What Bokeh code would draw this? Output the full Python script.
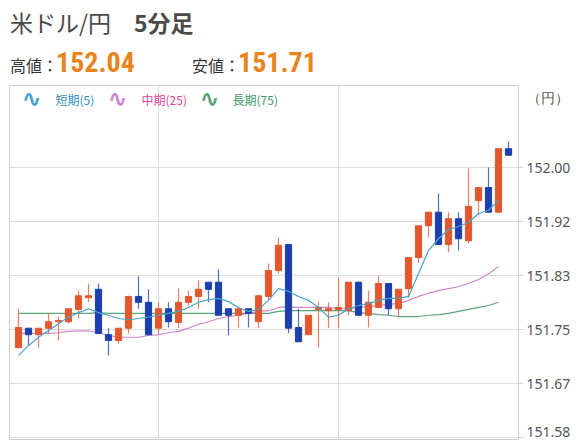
from bokeh.plotting import figure
from bokeh.models import Range1d, FixedTicker, Label, ColumnDataSource, Grid, Div
from bokeh.layouts import column
from bokeh.embed import file_html
from bokeh.resources import INLINE

# ---- data ----
idx = list(range(1, 51))
opens = [151.722, 151.752, 151.742, 151.752, 151.762, 151.762, 151.781, 151.799, 151.812, 151.742,
         151.733, 151.752, 151.801, 151.792, 151.752, 151.782, 151.761, 151.792, 151.801, 151.823,
         151.823, 151.782, 151.772, 151.782, 151.762, 151.801, 151.841, 151.881, 151.753, 151.742,
         151.781, 151.779, 151.781, 151.779, 151.823, 151.772, 151.784, 151.821, 151.782, 151.813,
         151.861, 151.910, 151.931, 151.881, 151.921, 151.887, 151.949, 151.969, 151.931, 152.029]
highs = [151.782, 151.752, 151.752, 151.775, 151.770, 151.782, 151.810, 151.821, 151.821, 151.752,
         151.752, 151.802, 151.832, 151.812, 151.792, 151.792, 151.813, 151.810, 151.826, 151.823,
         151.843, 151.782, 151.782, 151.782, 151.802, 151.852, 151.892, 151.881, 151.782, 151.772,
         151.792, 151.792, 151.830, 151.823, 151.823, 151.810, 151.833, 151.821, 151.812, 151.861,
         151.910, 151.931, 151.960, 151.931, 151.931, 151.998, 151.969, 152.000, 152.029, 152.040]
lows = [151.721, 151.725, 151.722, 151.744, 151.733, 151.759, 151.767, 151.792, 151.744, 151.710,
        151.728, 151.744, 151.782, 151.741, 151.744, 151.753, 151.752, 151.787, 151.782, 151.792,
        151.772, 151.741, 151.753, 151.753, 151.752, 151.795, 151.836, 151.744, 151.731, 151.742,
        151.722, 151.752, 151.752, 151.772, 151.772, 151.753, 151.784, 151.772, 151.769, 151.799,
        151.853, 151.892, 151.881, 151.869, 151.872, 151.883, 151.926, 151.931, 151.931, 152.019]
closes = [151.753, 151.742, 151.752, 151.762, 151.764, 151.782, 151.802, 151.802, 151.744, 151.733,
          151.752, 151.801, 151.792, 151.742, 151.782, 151.762, 151.792, 151.801, 151.812, 151.812,
          151.772, 151.772, 151.782, 151.775, 151.802, 151.841, 151.880, 151.752, 151.731, 151.772,
          151.784, 151.782, 151.784, 151.823, 151.772, 151.792, 151.821, 151.782, 151.812, 151.861,
          151.910, 151.931, 151.881, 151.921, 151.890, 151.940, 151.969, 151.931, 152.029, 152.019]

ma_short = [151.710, 151.725, 151.738, 151.748, 151.759, 151.769, 151.776, 151.782, 151.776, 151.772,
            151.767, 151.765, 151.767, 151.769, 151.772, 151.775, 151.778, 151.784, 151.792, 151.796,
            151.798, 151.793, 151.784, 151.778, 151.781, 151.795, 151.813, 151.809, 151.801, 151.795,
            151.784, 151.769, 151.772, 151.782, 151.787, 151.790, 151.795, 151.798, 151.798, 151.801,
            151.836, 151.872, 151.890, 151.904, 151.909, 151.915, 151.929, 151.934, 151.949]
ma_mid = [151.744, 151.744, 151.744, 151.744, 151.745, 151.747, 151.748, 151.748, 151.745, 151.741,
          151.738, 151.738, 151.738, 151.741, 151.742, 151.745, 151.747, 151.752, 151.758, 151.762,
          151.767, 151.770, 151.772, 151.775, 151.778, 151.779, 151.784, 151.785, 151.784, 151.784,
          151.784, 151.784, 151.782, 151.782, 151.784, 151.785, 151.787, 151.789, 151.790, 151.795,
          151.801, 151.806, 151.810, 151.813, 151.816, 151.821, 151.827, 151.836, 151.847]
ma_long = [151.775, 151.775, 151.775, 151.775, 151.775, 151.775, 151.775, 151.775, 151.776, 151.775,
           151.775, 151.775, 151.775, 151.775, 151.775, 151.775, 151.775, 151.775, 151.775, 151.775,
           151.775, 151.775, 151.775, 151.775, 151.775, 151.775, 151.778, 151.779, 151.779, 151.779,
           151.779, 151.779, 151.779, 151.779, 151.776, 151.775, 151.773, 151.772, 151.770, 151.770,
           151.770, 151.772, 151.773, 151.775, 151.778, 151.781, 151.784, 151.787, 151.792]

y_ticks = [151.58333, 151.66667, 151.75, 151.83333, 151.91667, 152.0]
y_labels = ["151.58", "151.67", "151.75", "151.83", "151.92", "152.00"]
unit_pos = 152.108
unit_label = "（円）"
x_grid = [15, 33]

title_main = "米ドル/円"
title_sub = "5分足"
high_label, high_value = "高値：", "152.04"
low_label, low_value = "安値：", "151.71"
legend_names = ["短期(5)", "中期(25)", "長期(75)"]

# ---- styling ----
UP = "#e4572e"
DOWN = "#1c3fae"
C_SHORT, C_MID, C_LONG = "#4aa3cc", "#cf86cf", "#5aa47c"
T_SHORT, T_MID, T_LONG = "#2f8cc2", "#e0449c", "#3c9a66"
JP = "Noto Sans CJK JP"
ORANGE = "#e8841c"

colors = [UP if c >= o else DOWN for o, c in zip(opens, closes)]
src = ColumnDataSource(dict(
    x=idx, high=highs, low=lows,
    top=[max(o, c) for o, c in zip(opens, closes)],
    bottom=[min(o, c) for o, c in zip(opens, closes)],
    color=colors,
))

p = figure(frame_width=509, frame_height=355,
           x_range=Range1d(0.1, 51.0), y_range=Range1d(151.5787, 152.1265),
           output_backend="svg", toolbar_location=None,
           x_axis_location=None, y_axis_location="right",
           min_border_left=9, min_border_top=0, min_border_bottom=0, min_border_right=45)
p.background_fill_color = "white"
p.border_fill_color = "white"
p.outline_line_color = "#cfcfcf"

# remove any default vertical grid
p.center = [r for r in p.center if not (isinstance(r, Grid) and r.dimension == 0)]

ax = p.yaxis[0]
ax.ticker = FixedTicker(ticks=y_ticks + [unit_pos], minor_ticks=y_ticks)
overrides = {t: l for t, l in zip(y_ticks, y_labels)}
overrides[unit_pos] = unit_label
ax.major_label_overrides = overrides
ax.axis_line_color = None
ax.major_tick_in = 0
ax.major_tick_out = 0
ax.major_tick_line_color = None
ax.minor_tick_in = 0
ax.minor_tick_out = 5
ax.minor_tick_line_color = "#d0d0d0"
ax.major_label_text_font = "Noto Sans"
ax.major_label_text_font_size = "14px"
ax.major_label_text_color = "#555555"
ax.major_label_standoff = 3

p.ygrid.ticker = FixedTicker(ticks=y_ticks)
p.ygrid.grid_line_color = "#dcdcdc"
p.add_layout(Grid(dimension=0, ticker=FixedTicker(ticks=x_grid), grid_line_color="#dcdcdc"))

# moving averages
p.line(idx[:len(ma_long)], ma_long, line_color=C_LONG, line_width=1.2)
p.line(idx[:len(ma_mid)], ma_mid, line_color=C_MID, line_width=1.2)

# candles
p.segment(x0="x", y0="high", x1="x", y1="low", source=src, line_color="color", line_alpha=0.75, line_width=1.2)
p.vbar(x="x", top="top", bottom="bottom", width=0.62, source=src, fill_color="color", line_color="color", line_width=1)

p.line(idx[:len(ma_short)], ma_short, line_color=C_SHORT, line_width=1.2)

def lab(text, x, y, size, color, font=JP, style="normal", baseline="middle"):
    p.add_layout(Label(x=x, y=y, x_units="screen", y_units="screen", text=text,
                       text_font=font, text_font_size=size, text_color=color,
                       text_font_style=style, text_baseline=baseline))

# legend
for ix, tx, name, ic, tc in [(12, 46, legend_names[0], C_SHORT, T_SHORT),
                             (98, 132, legend_names[1], C_MID, T_MID),
                             (190, 223, legend_names[2], C_LONG, T_LONG)]:
    lab("∿", ix, 342, "24px", ic, font="DejaVu Sans", style="bold")
    lab(name, tx, 341, "12px", tc)

# header
num_font = "'Liberation Sans Narrow','Roboto Condensed','Roboto',sans-serif"
jp_font = "'Noto Sans CJK JP',sans-serif"
header_html = f"""
<div style="position:relative;width:570px;height:85px;background:#ffffff;overflow:hidden;">
  <div style="position:absolute;left:10px;top:11px;font-family:{jp_font};font-size:23px;line-height:1;color:#4a4a4a;white-space:nowrap;">{title_main}　<span style="font-weight:bold;">{title_sub}</span></div>
  <div style="position:absolute;left:10px;top:57px;font-family:{jp_font};font-size:16px;line-height:1;color:#333333;white-space:nowrap;">{high_label}</div>
  <div style="position:absolute;left:56px;top:49px;font-family:{num_font};font-weight:bold;font-size:28px;line-height:1;color:{ORANGE};white-space:nowrap;">{high_value}</div>
  <div style="position:absolute;left:192px;top:57px;font-family:{jp_font};font-size:16px;line-height:1;color:#333333;white-space:nowrap;">{low_label}</div>
  <div style="position:absolute;left:238px;top:49px;font-family:{num_font};font-weight:bold;font-size:28px;line-height:1;color:{ORANGE};white-space:nowrap;">{low_value}</div>
</div>
"""
header = Div(text=header_html, width=570, height=85, margin=(0, 0, 0, 0))

layout = column(header, p, spacing=0)
open("out.html", "w").write(file_html(layout, INLINE))
